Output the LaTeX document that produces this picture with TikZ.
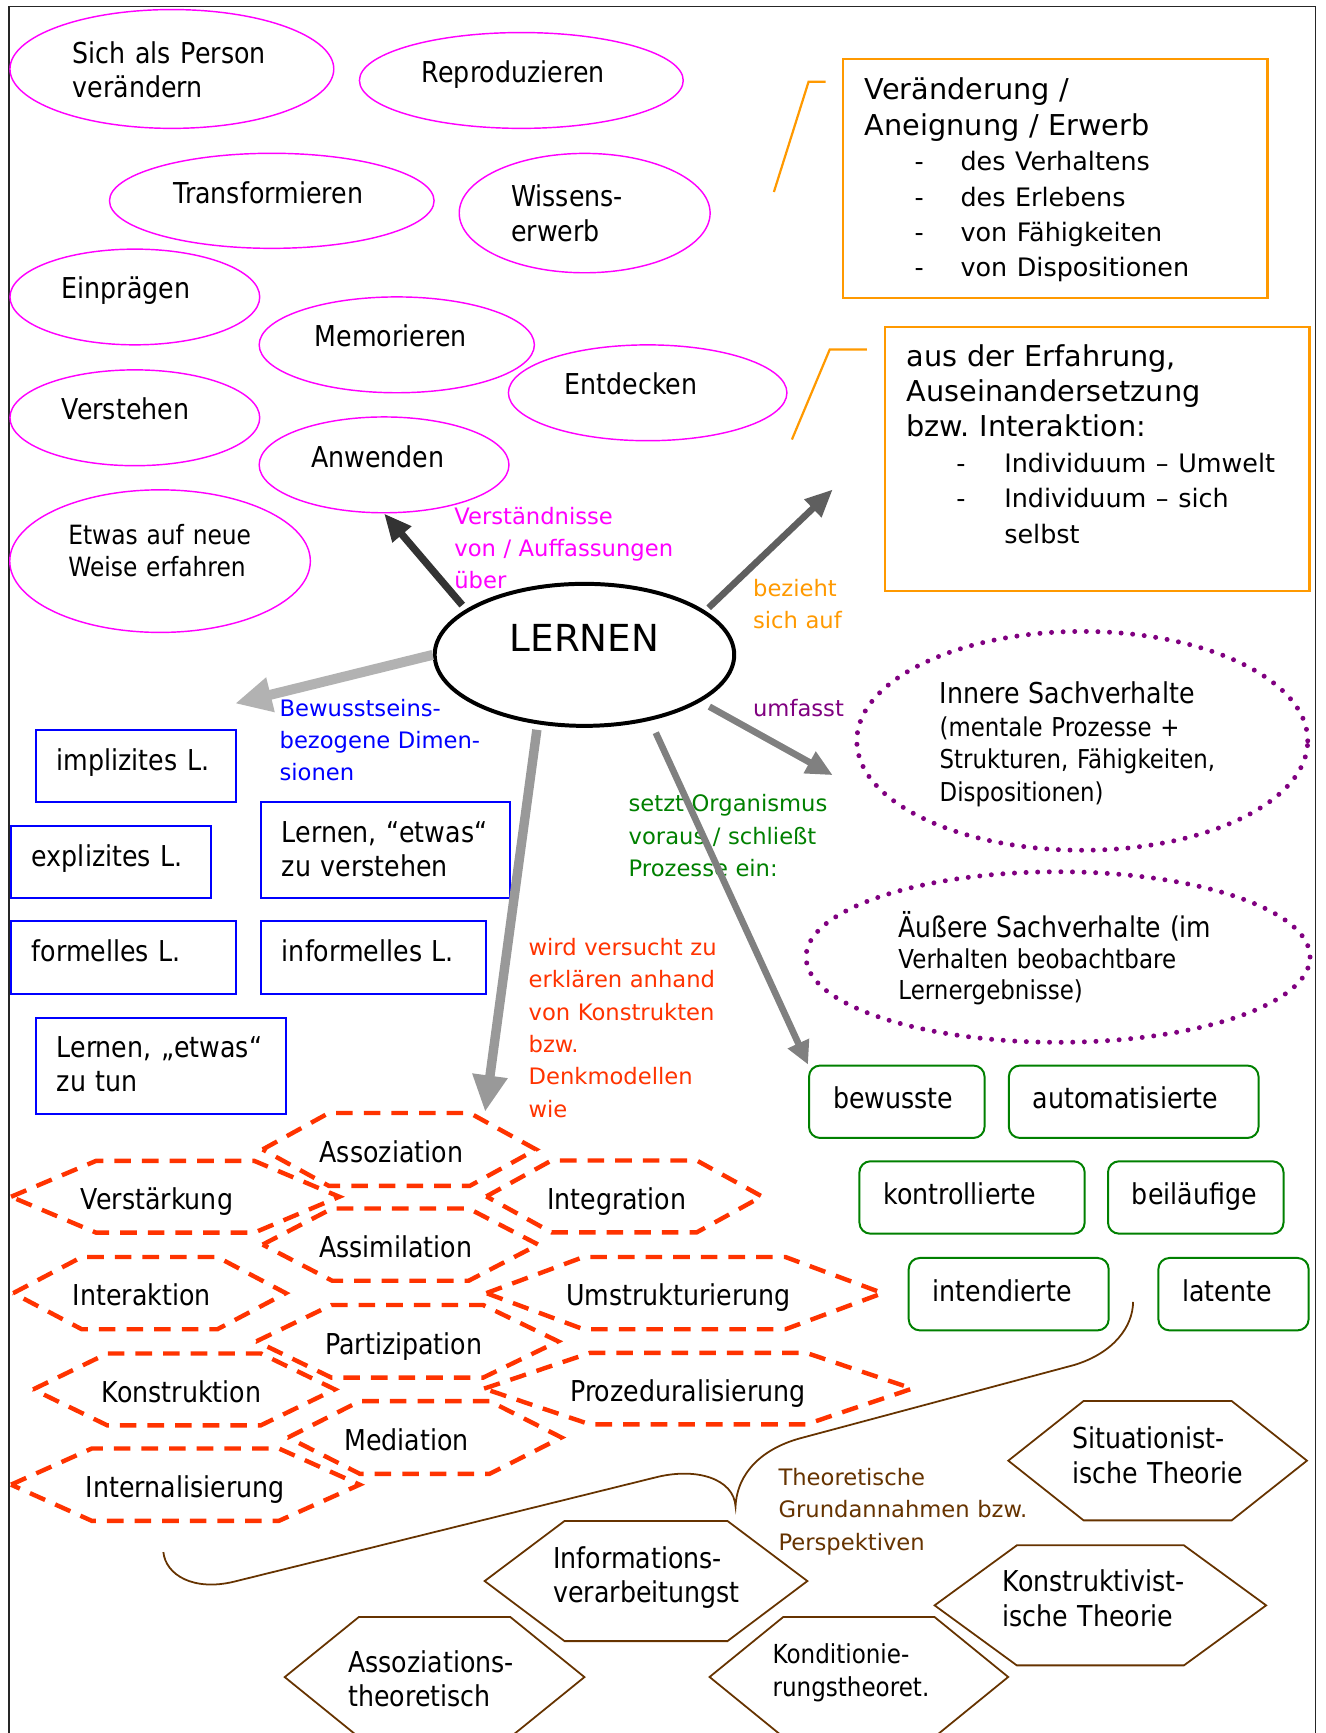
\documentclass[tikz,border=0pt]{standalone}
\usepackage{fontspec}
\setmainfont{DejaVu Sans}[FakeStretch=0.88]
\newfontfamily\verdana{DejaVu Sans}
\usetikzlibrary{arrows.meta, shapes.geometric}
\frenchspacing

\definecolor{mag}{HTML}{FF00FF}
\definecolor{orng}{HTML}{FF9900}
\definecolor{blu}{HTML}{0000FF}
\definecolor{purp}{HTML}{800080}
\definecolor{grn}{HTML}{008000}
\definecolor{redor}{HTML}{FF3300}
\definecolor{brn}{HTML}{663300}
\definecolor{grayA}{HTML}{333333}
\definecolor{grayB}{HTML}{5F5F5F}
\definecolor{grayC}{HTML}{B2B2B2}
\definecolor{grayD}{HTML}{999999}
\definecolor{grayE}{HTML}{808080}

\tikzset{magell/.style = {shape=ellipse, draw=mag, line width=1.3pt, inner sep=0pt, align=left, font=\fontsize{26}{31.2}\selectfont, text height=20pt}}
\tikzset{purpell/.style = {shape=ellipse, draw=purp, line width=4.5pt, line cap=round, dash pattern=on 0pt off 10.5pt, inner sep=0pt, align=left, font=\fontsize{23.5}{29.4}\selectfont, text height=20pt}}
\tikzset{bluebox/.style = {shape=rectangle, draw=blu, line width=1.8pt, anchor=north west, inner xsep=19pt, inner ysep=0pt, align=left, font=\fontsize{26}{30.8}\selectfont, text height=36.5pt}}
\tikzset{grnbox/.style = {shape=rectangle, draw=grn, rounded corners=10pt, line width=1.8pt, anchor=north west, inner xsep=21.7pt, inner ysep=0pt, align=left, font=\fontsize{26}{31}\selectfont, text height=39pt, text depth=26.5pt}}
\tikzset{orbox/.style = {shape=rectangle, draw=orng, line width=2.2pt, anchor=north west, inner xsep=19.8pt, inner ysep=0pt, align=left, text width=344.6pt, font=\verdana\fontsize{26}{32}\selectfont}}
\tikzset{lbl/.style = {anchor=base west, inner sep=0pt, align=left, text width=260pt, font=\verdana\fontsize{20.5}{29.3}\selectfont}}
\tikzset{redhex/.style = {draw=redor, line width=4pt, dash pattern=on 15pt off 10pt}}
\tikzset{redhextxt/.style = {inner sep=0pt, font=\fontsize{26}{31}\selectfont, text height=23.2pt, text depth=0pt}}
\tikzset{brnhex/.style = {draw=brn, line width=1.6pt}}
\tikzset{brnhextxt/.style = {inner sep=0pt, align=left, font=\fontsize{26}{31.3}\selectfont, text height=20pt}}
\tikzset{edge/.style = {-{Triangle[length=25pt, width=21pt]}, line width=6pt}}
\tikzset{fatedge/.style = {-{Triangle[length=33pt, width=30pt]}, line width=9pt}}

% hexagon: style, name, x, y, half width, half height, inset, text options, text
\newcommand{\hexnode}[9]{%
  \draw[#1] (#3-#5,#4) -- (#3-#5+#7,#4-#6) -- (#3+#5-#7,#4-#6)
    -- (#3+#5,#4) -- (#3+#5-#7,#4+#6) -- (#3-#5+#7,#4+#6) -- cycle;
  \node[#1txt, #8] (#2) at (#3,#4) {#9};}
\newcommand{\oritem}[2][41.5pt]{{\fontsize{23}{32}\selectfont\hspace*{45.1pt}\makebox[#1][l]{-}#2}}

\begin{document}
\begin{tikzpicture}[x=1pt, y=-1pt]
\useasboundingbox (0,0) rectangle (1199,1568);
\draw[line width=1.3pt, black!85] (8,1568) -- (8,6) -- (1190,6) -- (1190,1568);

% what learning is understood as
\node[magell, minimum width=293pt, minimum height=107.5pt, text width=179.2pt, text depth=30.4pt] (sich) at (155.5,62.4) {Sich als Person\\verändern};
\node[magell, minimum width=293pt, minimum height=86.7pt, text width=179.8pt, text depth=16.6pt] (repro) at (471.7,72.8) {Reproduzieren};
\node[magell, minimum width=293.7pt, minimum height=86pt, text width=178.2pt, text depth=15.8pt] (transf) at (245.9,181.7) {Transformieren};
\node[magell, minimum width=227pt, minimum height=108pt, text width=132.8pt, text depth=31.2pt] (wissen) at (529,192.8) {Wissens-\\erwerb};
\node[magell, minimum width=226pt, minimum height=86.6pt, text width=132.4pt, text depth=16.4pt] (einpr) at (122,268.7) {Einprägen};
\node[magell, minimum width=249pt, minimum height=86.7pt, text width=148.4pt, text depth=16.4pt] (memor) at (359,312) {Memorieren};
\node[magell, minimum width=252pt, minimum height=86.7pt, text width=150pt, text depth=16.6pt] (entd) at (586,355.4) {Entdecken};
\node[magell, minimum width=226pt, minimum height=86.7pt, text width=132.4pt, text depth=16.6pt] (verst) at (122,378) {Verstehen};
\node[magell, minimum width=226pt, minimum height=86.7pt, text width=131.8pt, text depth=15.2pt] (anw) at (347.5,420.6) {Anwenden};
\node[magell, minimum width=272pt, minimum height=129pt, text width=166pt, text depth=50.6pt, font=\fontsize{24}{29.4}\selectfont] (etwas) at (144.8,507.7) {Etwas auf neue\\Weise erfahren};

% orange boxes
\node[orbox, text height=36.8pt, text depth=179pt] (aenderung) at (761.6,52.5) {Veränderung /\\Aneignung / Erwerb\\\oritem{des Verhaltens}\\\oritem{des Erlebens}\\\oritem{von Fähigkeiten}\\\oritem{von Dispositionen}};
\draw[orng, line width=2pt] (700.2,173.7) -- (731.6,73.9) -- (747.1,73.9);
\node[orbox, text height=35.6pt, text depth=203.4pt] (erfahrung) at (799.4,294.6) {aus der Erfahrung,\\Auseinandersetzung\\bzw. Interaktion:\\\oritem[43.3pt]{Individuum – Umwelt}\\\oritem[43.3pt]{Individuum – sich}\\{\fontsize{23}{32}\selectfont\hspace*{88.4pt}selbst}};
\draw[orng, line width=2pt] (716.5,397.7) -- (750.7,316.3) -- (784.3,316.3);

\node[shape=ellipse, draw, line width=3.6pt, minimum width=271pt, minimum height=128.5pt, inner sep=0pt, font=\verdana\fontsize{33.7}{40}\selectfont, text height=24.6pt, text depth=30pt] (lernen) at (528.8,592.5) {LERNEN};

\node[purpell, minimum width=408pt, minimum height=198pt, text width=258pt, text depth=87.2pt] (innere) at (979.2,670.3) {{\fontsize{26}{29.4}\selectfont Innere Sachverhalte}\\(mentale Prozesse +\\Strukturen, Fähigkeiten,\\Dispositionen)};
\node[purpell, minimum width=456pt, minimum height=154.3pt, text width=288.8pt, text depth=55.8pt, font=\fontsize{23.6}{28.3}\selectfont] (aeussere) at (957.3,865.9) {{\fontsize{25.8}{28.3}\selectfont Äußere Sachverhalte (im}\\Verhalten beobachtbare\\Lernergebnisse)};

% consciousness related dimensions
\node[bluebox, text width=143.4pt, text depth=28.6pt] (implizit) at (31.5,659.5) {implizites L.};
\node[bluebox, text width=143pt, text depth=29.2pt] (explizit) at (8.9,746.2) {explizites L.};
\node[bluebox, text width=187.4pt, text depth=50.8pt] (verstehen) at (235.2,724.6) {\mbox{Lernen, “etwas“}\\zu verstehen};
\node[bluebox, text width=166pt, text depth=29.3pt] (formell) at (8.9,832.8) {formelles L.};
\node[bluebox, text width=165.2pt, text depth=29.3pt] (informell) at (235.2,832.8) {informelles L.};
\node[bluebox, text width=188.3pt, text height=35.6pt, text depth=51.4pt] (tun) at (31.5,920.1) {\mbox{Lernen, „etwas“}\\zu tun};

% processes
\node[grnbox, text width=115.4pt] (bewusst) at (731.1,963.2) {bewusste};
\node[grnbox, text width=182.5pt] (automat) at (911.9,963.2) {automatisierte};
\node[grnbox, text width=160.4pt] (kontroll) at (776.7,1049.8) {kontrollierte};
\node[grnbox, text width=115.4pt] (beilaeuf) at (1001.6,1049.8) {beiläufige};
\node[grnbox, text width=137.5pt] (intend) at (821.3,1137.3) {intendierte};
\node[grnbox, text width=92.5pt] (latent) at (1047.2,1137.3) {latente};

% constructs
\hexnode{redhex}{assoz}{361.3}{1040}{123.7}{33}{60}{xshift=-7.2pt}{Assoziation}
\hexnode{redhex}{verstaerk}{158.5}{1082.8}{148.5}{32.5}{77}{xshift=-16.5pt}{Verstärkung}
\hexnode{redhex}{integr}{564.7}{1082.5}{124.7}{32.5}{59}{xshift=-6.7pt}{Integration}
\hexnode{redhex}{assim}{362.3}{1126.1}{124.7}{32.7}{63}{xshift=-4.3pt}{Assimilation}
\hexnode{redhex}{interakt}{135.3}{1170}{123.3}{32.7}{62}{xshift=-7pt}{Interaktion}
\hexnode{redhex}{umstrukt}{619.3}{1170}{179.3}{32.7}{88}{xshift=-5.5pt}{Umstrukturierung}
\hexnode{redhex}{partiz}{368.5}{1213.6}{136.5}{32.9}{68}{xshift=-3.2pt}{Partizipation}
\hexnode{redhex}{konstr}{166.5}{1257.1}{136.5}{32.5}{67}{xshift=-2.3pt}{Konstruktion}
\hexnode{redhex}{prozed}{631.7}{1256.4}{193.7}{32.4}{96}{xshift=-9.3pt}{Prozeduralisierung}
\hexnode{redhex}{mediat}{384.3}{1300.6}{123.7}{32.9}{65}{xshift=-16.3pt}{Mediation}
\hexnode{redhex}{internal}{167.7}{1343.3}{157.7}{32.7}{73}{}{Internalisierung}

% theories
\draw[brn, line width=1.6pt] (147.8,1404.3) .. controls (150,1425) and (175,1440) .. (212,1431)
  -- (592,1337) .. controls (630,1327) and (664,1338) .. (665.5,1363)
  .. controls (667,1332) and (690,1311) .. (723,1301.6)
  -- (972,1235) .. controls (1008,1224) and (1025,1200) .. (1025.2,1178);
\hexnode{brnhex}{situat}{1047.4}{1321.6}{135.1}{54}{68.1}{text width=154.2pt, text depth=41.8pt}{Situationist-\\\mbox{ische Theorie}}
\hexnode{brnhex}{konstrukt}{995.6}{1452.5}{150}{54.3}{74.4}{text width=176.8pt, text depth=44.2pt}{Konstruktivist-\\\mbox{ische Theorie}}
\hexnode{brnhex}{inform}{584.5}{1430.5}{146}{54.35}{72.3}{text width=167.8pt, text depth=43pt}{Informations-\\verarbeitungst}
\hexnode{brnhex}{kondit}{777.1}{1517.3}{135.1}{54.3}{66.7}{text width=156.2pt, text depth=44.6pt, font=\fontsize{23.7}{30}\selectfont}{Konditionie-\\rungstheoret.}
\hexnode{brnhex}{assoztheo}{393.2}{1517.4}{135.6}{54.3}{67}{text width=156.2pt, text depth=29pt}{Assoziations-\\theoretisch}

% arrow labels
\node[lbl, text=mag] (verstLbl) at (410.9,474.2) {Verständnisse\\von / Auffassungen\\über};
\node[lbl, text=orng] (bezLbl) at (681.2,539.4) {bezieht\\sich auf};
\node[lbl, text=purp] (umfLbl) at (681.2,648.6) {umfasst};
\node[lbl, text=grn] (setztLbl) at (568.6,734.5) {setzt Organismus\\voraus / schließt\\Prozesse ein:};
\node[lbl, text=blu] (bewLbl) at (252.8,648) {Bewusstseins-\\bezogene Dimen-\\sionen};
\node[lbl, text=redor] (wirdLbl) at (478.1,864.3) {wird versucht zu\\erklären anhand\\von Konstrukten\\bzw.\\Denkmodellen\\wie};
\node[lbl, text=brn] (theoLbl) at (704.2,1343.9) {Theoretische\\Grundannahmen bzw.\\Perspektiven};

% arrows out of LERNEN
\coordinate (bezEnd) at (753.5,442.8);
\coordinate (bewEnd) at (212.7,636.5);
\coordinate (wirdEnd) at (438.9,1006);
\coordinate (umfEnd) at (753.5,701.4);
\draw[edge, draw=grayA, line width=6.6pt, shorten <=5pt] (lernen.159.6) -- (anw.south);
\draw[edge, draw=grayB, shorten <=4pt] (lernen.20.5) -- (bezEnd);
\draw[fatedge, draw=grayC] (lernen.180.75) -- (bewEnd);
\draw[fatedge, draw=grayD, line width=8.5pt, shorten <=5pt] (lernen.236.2) -- (wirdEnd);
\draw[edge, draw=grayE, shorten <=9pt, -{Triangle[length=24pt, width=21pt]}] (lernen.338.2) -- (umfEnd);
\draw[edge, draw=grayE, shorten <=12pt, -{Triangle[length=21pt, width=20pt]}] (lernen.315.4) -- (bewusst.north west);
\end{tikzpicture}
\end{document}
